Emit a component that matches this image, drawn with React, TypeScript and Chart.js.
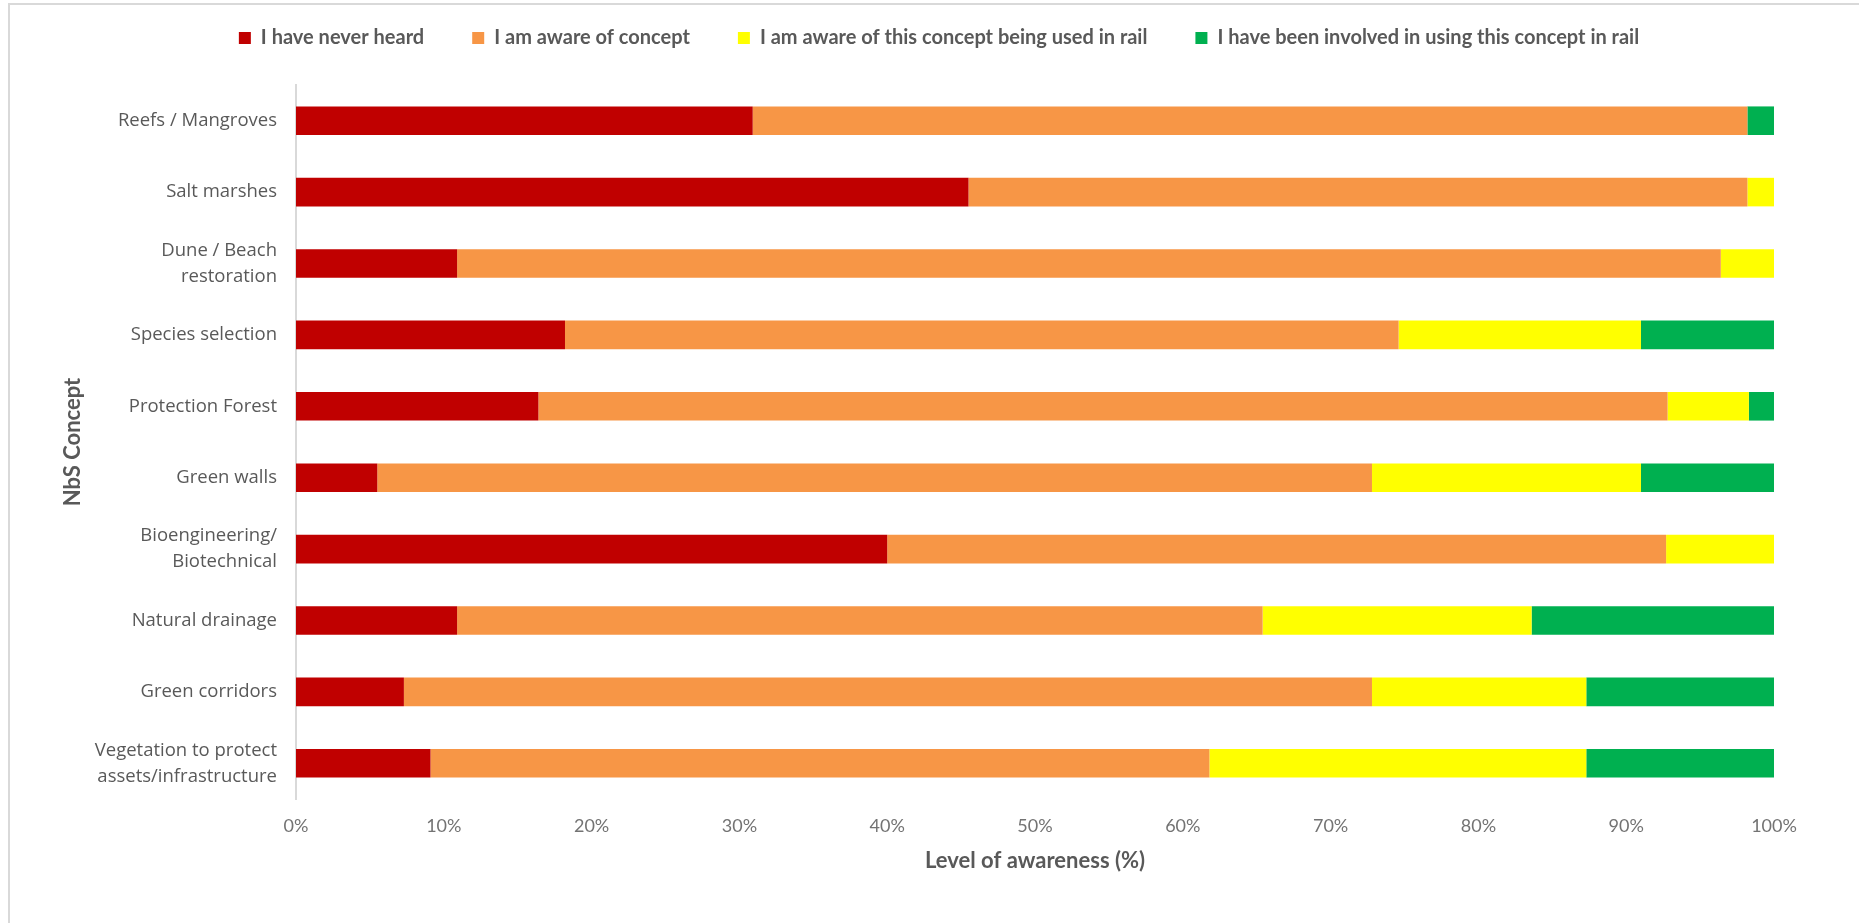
import React, { useEffect, useRef } from "react";
import { Chart, registerables } from "chart.js";

Chart.register(...registerables);

const categories: (string | string[])[] = [
  "Reefs / Mangroves",
  "Salt marshes",
  ["Dune / Beach", "restoration"],
  "Species selection",
  "Protection Forest",
  "Green walls",
  ["Bioengineering/", "Biotechnical"],
  "Natural drainage",
  "Green corridors",
  ["Vegetation to protect", "assets/infrastructure"],
];

const seriesNames = [
  "I have never heard",
  "I am aware of concept",
  "I am aware of this concept being used in rail",
  "I have been involved in using this concept in rail",
];

const neverHeard = [30.9, 45.5, 10.9, 18.2, 16.4, 5.5, 40.0, 10.9, 7.3, 9.1];
const awareConcept = [67.3, 52.7, 85.5, 56.4, 76.4, 67.3, 52.7, 54.5, 65.5, 52.7];
const awareRail = [0, 1.8, 3.6, 16.4, 5.5, 18.2, 7.3, 18.2, 14.5, 25.5];
const involvedRail = [1.8, 0, 0, 9.1, 1.8, 9.1, 0, 16.4, 12.7, 12.7];

const seriesColors = ["#C00000", "#F79646", "#FFFF00", "#00B050"];

const xTickValues = [0, 10, 20, 30, 40, 50, 60, 70, 80, 90, 100];

const xTitle = "Level of awareness (%)";
const yTitle = "NbS Concept";

const legendShift = {
  id: "legendShift",
  afterLayout(chart: any) {
    const lg = chart.legend;
    if (!lg) return;
    lg.top -= 27;
    lg.bottom -= 27;
    lg.left += 24;
    lg.right += 24;
  },
};

export default function App() {
  const canvasRef = useRef<HTMLCanvasElement | null>(null);

  useEffect(() => {
    if (!canvasRef.current) return;
    const seriesData = [neverHeard, awareConcept, awareRail, involvedRail];
    const chart = new Chart(canvasRef.current, {
      type: "bar",
      data: {
        labels: categories as any,
        datasets: seriesNames.map((name, i) => ({
          label: name,
          data: seriesData[i],
          backgroundColor: seriesColors[i],
          borderWidth: 0,
          barPercentage: 0.4,
          categoryPercentage: 1,
        })),
      },
      options: {
        indexAxis: "y",
        responsive: false,
        animation: false,
        devicePixelRatio: 1,
        layout: { padding: { left: 56, right: 85, top: 7, bottom: 45 } },
        plugins: {
          tooltip: { enabled: false },
          legend: {
            position: "top",
            align: "center",
            labels: {
              boxWidth: 12,
              boxHeight: 12,
              padding: 48,
              color: "#595959",
              font: { family: "Lato", size: 20, weight: "bold" },
            },
          },
        },
        scales: {
          x: {
            type: "linear",
            stacked: true,
            min: 0,
            max: 100,
            afterFit: (scale: any) => {
              scale.height = 79;
            },
            afterBuildTicks: (scale: any) => {
              scale.ticks = xTickValues.map((v) => ({ value: v }));
            },
            grid: { display: false, drawTicks: false },
            border: { display: false },
            ticks: {
              padding: 16,
              color: "#737373",
              font: { family: "Lato", size: 18 },
              callback: (v: any) => v + "%",
            },
            title: {
              display: true,
              text: xTitle,
              color: "#595959",
              font: { family: "Lato", size: 22, weight: "bold" },
              padding: { top: 4, bottom: 4 },
            },
          },
          y: {
            type: "category",
            stacked: true,
            afterFit: (scale: any) => {
              scale.width = 240;
            },
            grid: { display: false, drawTicks: false },
            border: { display: true, color: "#d9d9d9", width: 2 },
            ticks: {
              padding: 19,
              color: "#595959",
              font: { family: "Open Sans", size: 18.5, lineHeight: 1.4 },
            },
            title: {
              display: true,
              text: yTitle,
              color: "#595959",
              font: { family: "Lato", size: 22, weight: "bold" },
              padding: { top: 4, bottom: 4 },
            },
          },
        },
      },
      plugins: [legendShift],
    } as any);
    return () => chart.destroy();
  }, []);

  return (
    <div
      style={{
        position: "absolute",
        left: 0,
        top: 0,
        width: 1859,
        height: 923,
        overflow: "hidden",
        background: "#ffffff",
      }}
    >
      <div
        style={{
          position: "absolute",
          left: 8,
          top: 3,
          width: 2000,
          height: 1000,
          borderLeft: "2px solid #d9d9d9",
          borderTop: "2px solid #d9d9d9",
        }}
      />
      <canvas
        ref={canvasRef}
        width={1859}
        height={923}
        style={{ position: "absolute", left: 0, top: 0, width: 1859, height: 923 }}
      />
    </div>
  );
}
